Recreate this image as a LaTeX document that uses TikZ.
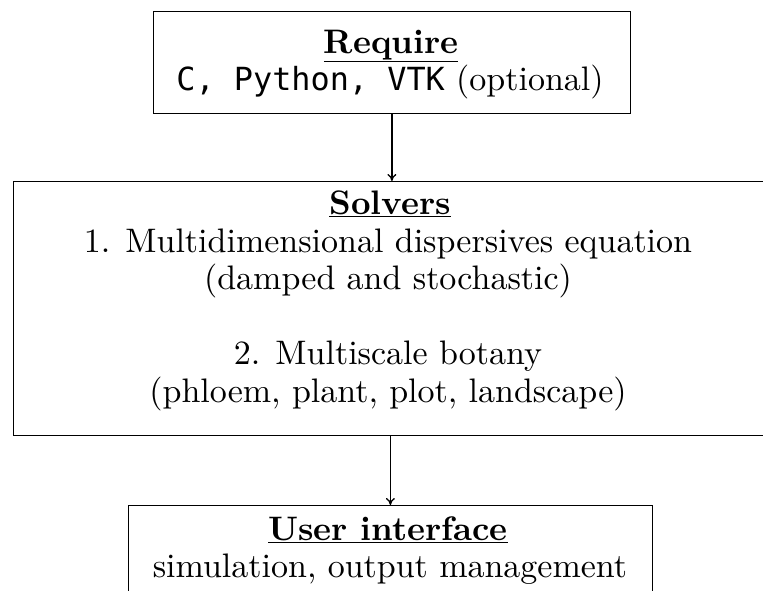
\documentclass[tikz,border=0pt]{standalone}
\usepackage{fontspec}
\setmainfont{lmroman10-regular}[Extension=.otf,BoldFont=lmroman10-bold]
\setmonofont{DejaVu Sans Mono}[Scale=MatchUppercase]
\usetikzlibrary{arrows.meta}
\begin{document}
\begin{tikzpicture}[x=1pt,y=-1pt,
  box/.style={draw, line width=0.8pt, inner sep=0pt, anchor=north west},
  txt/.style={anchor=base, inner sep=0pt, font=\fontsize{34}{37.5}\selectfont},
  conn/.style={-{To[length=7pt,width=9pt]}, line width=1.3pt}]
\useasboundingbox (0,0) rectangle (763,590);
\clip (0,0) rectangle (763,590);
% boxes
\node[box, minimum width=477pt, minimum height=102pt] (req) at (153,11) {};
\node[box, minimum width=754pt, minimum height=254pt] (solv) at (13,181) {};
\node[box, minimum width=524pt, minimum height=110pt] (ui) at (128,505) {};
% texts
\node[txt] (reqt) at (391,53) {\underline{\textbf{Require}}};
\node[txt] (reqd) at (390,90) {\texttt{C, Python, VTK} (optional)};
\node[txt] (solvt) at (390,214.5) {\underline{\textbf{Solvers}}};
\node[txt] (solva) at (388,252) {1. Multidimensional dispersives equation};
\node[txt] (solvb) at (388,289.5) {(damped and stochastic)};
\node[txt] (solvc) at (388,364.5) {2. Multiscale botany};
\node[txt] (solvd) at (388,402) {(phloem, plant, plot, landscape)};
\node[txt] (uit) at (388,540) {\underline{\textbf{User interface}}};
\node[txt] (uid) at (390,577) {simulation, output management};
% connectors
\draw[conn] (req.south) -- (req.south |- solv.north);
\draw[conn] (solv.south) -- (ui.north);
\end{tikzpicture}
\end{document}
